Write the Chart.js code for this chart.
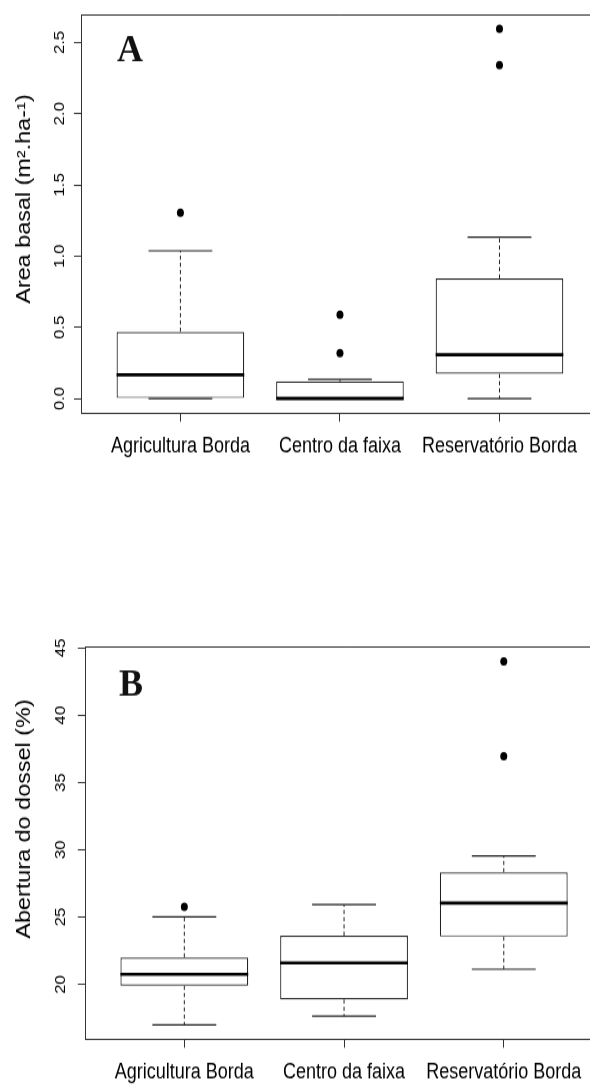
<!DOCTYPE html>
<html>
<head>
<meta charset="utf-8">
<script src="https://cdn.jsdelivr.net/npm/chart.js"></script>
<style>
  html, body { margin: 0; padding: 0; width: 590px; height: 1084px; overflow: hidden; background: #fff; }
  .painel { position: absolute; left: 0; width: 610px; height: 400px; transform: scaleY(1.2); transform-origin: 0 0; }
</style>
</head>
<body>
<div class="painel" style="top:0px"><canvas id="graficoA" width="610" height="400"></canvas></div>
<div class="painel" style="top:626px"><canvas id="graficoB" width="610" height="400"></canvas></div>
<script>
const categorias = ['Agricultura Borda', 'Centro da faixa', 'Reservatório Borda'];

// A - area basal (m².ha-¹)
const areaMin = [0, 0, 0];
const areaQ1 = [0, 0, 0.173];
const areaMediana = [0.166, 0.0, 0.307];
const areaQ3 = [0.469, 0.120, 0.843];
const areaMax = [1.037, 0.134, 1.133];
const areaOutliers = [[1.304], [0.319, 0.588], [2.340, 2.595]];
const areaTicks = [0, 0.5, 1.0, 1.5, 2.0, 2.5];

// B - abertura do dossel (%)
const dosselMin = [17.0, 17.63, 21.13];
const dosselQ1 = [19.9, 18.88, 23.55];
const dosselMediana = [20.75, 21.59, 26.04];
const dosselQ3 = [22.0, 23.62, 28.33];
const dosselMax = [25.02, 25.94, 29.54];
const dosselOutliers = [[25.77], [], [36.96, 44.0]];
const dosselTicks = [20, 25, 30, 35, 40, 45];

Chart.defaults.font.family = "'Liberation Sans', Arial, sans-serif";
Chart.defaults.color = '#000';

const moldura = {
    id: 'moldura',
    afterDraw(chart, args, opts) {
        const { ctx, chartArea } = chart;
        ctx.save();
        ctx.strokeStyle = '#333';
        ctx.lineWidth = 1;
        ctx.beginPath();
        ctx.moveTo(chartArea.left, Math.round(chartArea.top) + 0.5);
        ctx.lineTo(chartArea.right, Math.round(chartArea.top) + 0.5);
        ctx.stroke();

        ctx.fillStyle = '#111';
        ctx.font = 'bold 36px "Liberation Serif", "Times New Roman", serif';
        ctx.textAlign = 'center';
        ctx.textBaseline = 'middle';
        ctx.translate(opts.letraX, opts.letraY);
        ctx.scale(1, 0.875);
        ctx.fillText(opts.letra, 0, 0);
        ctx.restore();

        ctx.save();
        ctx.translate(opts.tituloX, opts.tituloY);
        ctx.rotate(-Math.PI / 2);
        ctx.font = '19.5px "Liberation Sans", Arial, sans-serif';
        ctx.fillStyle = '#000';
        ctx.textAlign = 'center';
        ctx.textBaseline = 'middle';
        ctx.fillText(opts.titulo, 0, 0);
        ctx.restore();
    }
};

function montarDatasets(minimo, q1, mediana, q3, maximo, outliers) {
    const caixas = [], medianas = [], hastes = [], travessas = [], pontos = [];
    categorias.forEach((c, i) => {
        const x = i + 1;
        caixas.push({ x: x, y: [q1[i], q3[i]] });
        medianas.push({ x: x - 0.4, y: mediana[i] }, { x: x + 0.4, y: mediana[i] }, { x: x + 0.45, y: null });
        hastes.push({ x: x, y: q3[i] }, { x: x, y: maximo[i] }, { x: x, y: null },
                    { x: x, y: q1[i] }, { x: x, y: minimo[i] }, { x: x, y: null });
        travessas.push({ x: x - 0.2, y: maximo[i] }, { x: x + 0.2, y: maximo[i] }, { x: x, y: null },
                       { x: x - 0.2, y: minimo[i] }, { x: x + 0.2, y: minimo[i] }, { x: x, y: null });
        outliers[i].forEach(v => pontos.push({ x: x, y: v }));
    });
    return [
        { type: 'line', data: medianas, borderColor: '#000', borderWidth: 2.6, pointRadius: 0, spanGaps: false, order: 0 },
        { type: 'scatter', data: pontos, pointRadius: 3.5, backgroundColor: '#000', borderWidth: 0, order: 1 },
        { type: 'line', data: hastes, borderColor: '#222', borderWidth: 1, borderDash: [3.5, 2.5], pointRadius: 0, spanGaps: false, order: 2 },
        { type: 'line', data: travessas, borderColor: '#222', borderWidth: 1.2, pointRadius: 0, spanGaps: false, order: 3 },
        { type: 'bar', data: caixas, backgroundColor: '#fff', borderColor: '#222', borderWidth: 1.2, borderSkipped: false,
          barPercentage: 0.8, categoryPercentage: 1, order: 4 }
    ];
}

function criarGrafico(id, datasets, eixoY, painel) {
    return new Chart(document.getElementById(id), {
        type: 'bar',
        data: { datasets: datasets },
        options: {
            responsive: false,
            animation: false,
            layout: { padding: { top: 8.9, right: painel.direita, bottom: 0, left: 0 } },
            plugins: { legend: { display: false }, tooltip: { enabled: false }, moldura: painel },
            scales: {
                x: {
                    type: 'linear',
                    offset: false,
                    min: 0.38,
                    max: 3.62,
                    afterBuildTicks: s => { s.ticks = categorias.map((c, i) => ({ value: i + 1 })); },
                    afterFit: s => { s.height = 55.6; },
                    grid: { drawOnChartArea: false, offset: false, tickLength: 7, color: '#333' },
                    border: { color: '#333', width: 1 },
                    ticks: {
                        callback: (v, i) => categorias[i],
                        maxRotation: 0,
                        autoSkip: false,
                        padding: 10,
                        font: { size: 18 }
                    }
                },
                y: {
                    min: eixoY.min,
                    max: eixoY.max,
                    afterBuildTicks: s => { s.ticks = eixoY.ticks.map(v => ({ value: v })); },
                    afterFit: s => { s.width = painel.largura; },
                    grid: { drawOnChartArea: false, tickLength: 7.5, color: '#333' },
                    border: { color: '#333', width: 1 },
                    ticks: {
                        minRotation: 90,
                        maxRotation: 90,
                        crossAlign: 'center',
                        padding: painel.recuo,
                        font: { size: 14 },
                        callback: eixoY.formato
                    }
                }
            }
        },
        plugins: [moldura]
    });
}

const graficoA = criarGrafico('graficoA',
    montarDatasets(areaMin, areaQ1, areaMediana, areaQ3, areaMax, areaOutliers),
    { min: -0.1036, max: 2.6936, ticks: areaTicks, formato: v => v.toFixed(1) },
    { letra: 'A', letraX: 130, letraY: 43.3, titulo: 'Area basal (m².ha-¹)', tituloX: 25, tituloY: 165.8,
      largura: 81.5, direita: 11.6, recuo: 4 });

const graficoB = criarGrafico('graficoB',
    montarDatasets(dosselMin, dosselQ1, dosselMediana, dosselQ3, dosselMax, dosselOutliers),
    { min: 15.92, max: 45.08, ticks: dosselTicks, formato: v => String(v) },
    { letra: 'B', letraX: 131, letraY: 49.5, titulo: 'Abertura do dossel (%)', tituloX: 25, tituloY: 160.8,
      largura: 85.3, direita: 7.2, recuo: 9 });
</script>
</body>
</html>
